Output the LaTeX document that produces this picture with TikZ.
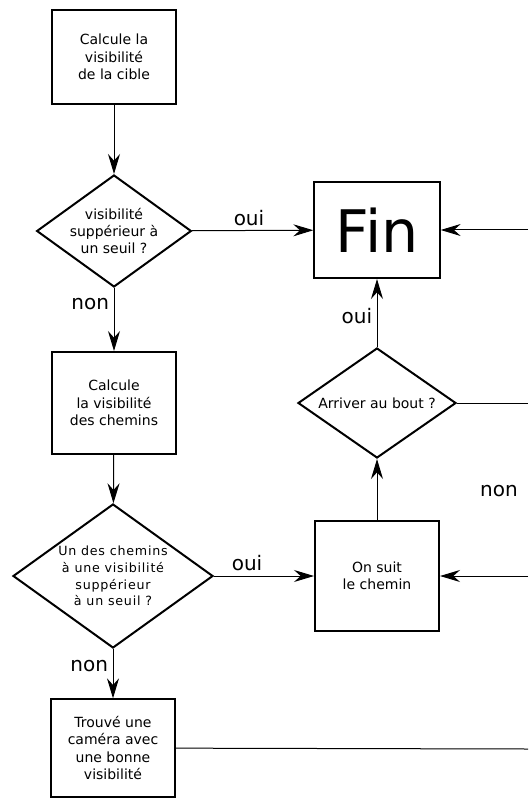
\documentclass[tikz,border=0pt]{standalone}
\usepackage{fontspec}
\setmainfont{DejaVu Sans}
\usetikzlibrary{shapes.geometric,arrows.meta}

\begin{document}
\begin{tikzpicture}[x=0.75pt,y=0.75pt,yscale=-1,xscale=1,
  boite/.style={draw,line width=1.5,inner sep=0,align=center,minimum width=93pt,font=\fontsize{10.5}{13}\selectfont},
  losange/.style={draw,diamond,line width=1.5,inner sep=0,align=center,font=\fontsize{10.5}{13}\selectfont},
  fleche/.style={line width=0.75,-{Stealth[length=15pt,width=9pt,inset=5pt]}},
  trait/.style={line width=0.75},
  etiq/.style={font=\fontsize{15}{17}\selectfont}]
\useasboundingbox (0,0) rectangle (528,798);

%Shape: Rectangle [cible]
\node [boite,minimum height=71pt] (cible) at (114,57) {Calcule la\\visibilité\\de la cible};
%Shape: Diamond [seuil1]
\node [losange,aspect=1.38,minimum width=116pt,minimum height=84pt] (seuil1) at (114,231) {visibilité\\suppérieur à\\un seuil ?};
%Shape: Rectangle [chemins]
\node [boite,minimum height=76.5pt] (chemins) at (114,403) {Calcule\\la visibilité\\des chemins};
%Shape: Diamond [seuil2]
\node [losange,aspect=1.39,minimum width=150pt,minimum height=108pt,font=\fontsize{9.5}{12.5}\selectfont\addfontfeatures{LetterSpace=6}] (seuil2) at (113,576) {Un des chemins\\à une visibilité\\suppérieur\\à un seuil ?};
%Shape: Rectangle [camera]
\node [boite,minimum height=73pt] (camera) at (113,748) {Trouvé une\\caméra avec\\une bonne\\visibilité};
%Shape: Rectangle [fin]
\node [boite,minimum width=94pt,minimum height=72pt,font=\fontsize{44}{50}\selectfont] (fin) at (377,230) {Fin};
%Shape: Diamond [bout]
\node [losange,aspect=1.44,minimum width=118.5pt,minimum height=82.5pt] (bout) at (377,403) {Arriver au bout ?};
%Shape: Rectangle [suivre]
\node [boite,minimum height=82pt] (suivre) at (377,576) {On suit\\le chemin};

%free ends on the right border
\coordinate (bordFin) at (528,230);
\coordinate (bordBout) at (528,403);
\coordinate (bordSuivre) at (528,576);
\coordinate (bordCamera) at (528,749);

%Straight Lines
\draw [fleche] (cible) -- (seuil1);
\draw [fleche] (seuil1) -- node [etiq,above,pos=0.47] {oui} (fin);
\draw [fleche] (seuil1) -- node [etiq,left,pos=0.25] {non} (chemins);
\draw [fleche] (chemins) -- (seuil2);
\draw [fleche] (seuil2) -- node [etiq,above,pos=0.33] {oui} (suivre);
\draw [fleche] (seuil2) -- node [etiq,left,pos=0.35] {non} (camera);
\draw [fleche] (suivre) -- (bout);
\draw [fleche] (bout) -- node [etiq,left,pos=0.45] {oui} (fin);
\draw [fleche] (bordFin) -- (fin);
\draw [fleche] (bordSuivre) -- (suivre);
\draw [trait] (bout) -- (bordBout);
\draw [trait] (camera) -- (bordCamera);
\node [etiq] (non3) at (499,491) {non};

\end{tikzpicture}
\end{document}
